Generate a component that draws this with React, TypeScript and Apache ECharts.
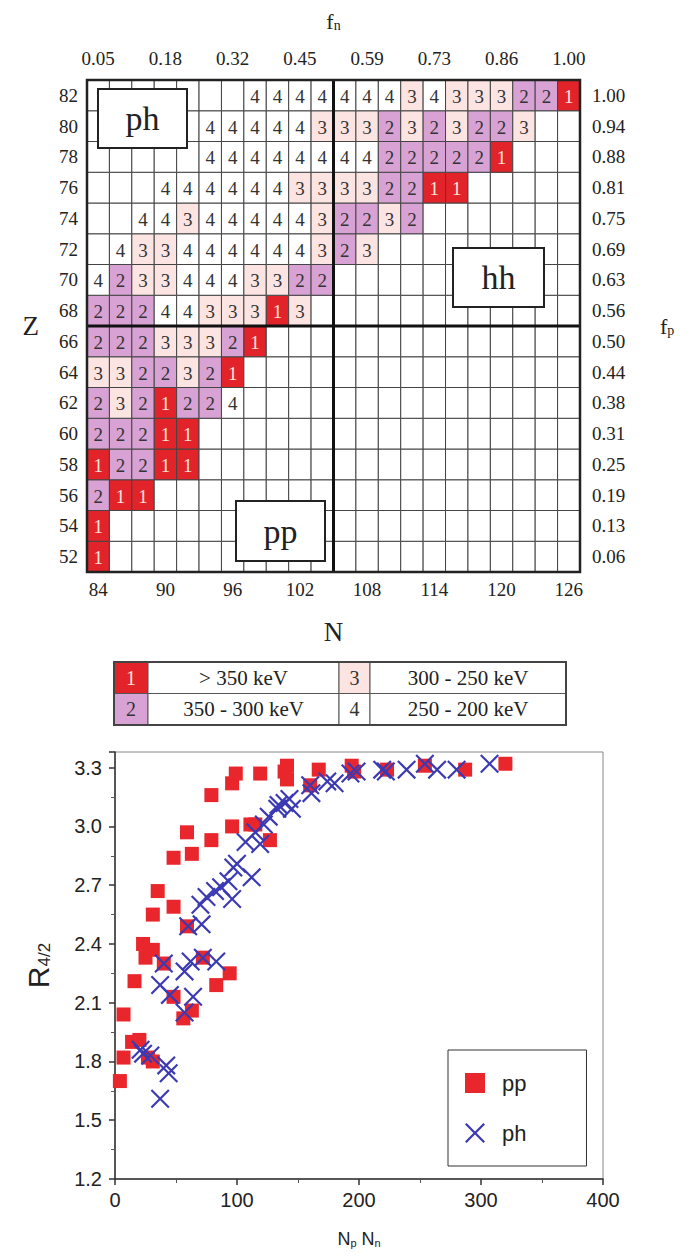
import React, { useEffect, useRef } from 'react';
import * as echarts from 'echarts';

// ---------- Top chart: neutron/proton grid ----------
const N_VALUES = [84, 86, 88, 90, 92, 94, 96, 98, 100, 102, 104, 106, 108, 110, 112, 114, 116, 118, 120, 122, 124, 126];
const Z_VALUES = [52, 54, 56, 58, 60, 62, 64, 66, 68, 70, 72, 74, 76, 78, 80, 82];
const FN_TICKS = ['0.05', '0.18', '0.32', '0.45', '0.59', '0.73', '0.86', '1.00'];
const FP_TICKS = ['0.06', '0.13', '0.19', '0.25', '0.31', '0.38', '0.44', '0.50', '0.56', '0.63', '0.69', '0.75', '0.81', '0.88', '0.94', '1.00'];

// category of each cell (0 = empty), columns N = 84 ... 126
const ROW_Z82 = [0, 0, 0, 0, 0, 0, 0, 4, 4, 4, 4, 4, 4, 4, 3, 4, 3, 3, 3, 2, 2, 1];
const ROW_Z80 = [0, 0, 0, 0, 0, 4, 4, 4, 4, 4, 3, 3, 3, 2, 3, 2, 3, 2, 2, 3, 0, 0];
const ROW_Z78 = [0, 0, 0, 0, 0, 4, 4, 4, 4, 4, 4, 4, 4, 2, 2, 2, 2, 2, 1, 0, 0, 0];
const ROW_Z76 = [0, 0, 0, 4, 4, 4, 4, 4, 4, 3, 3, 3, 3, 2, 2, 1, 1, 0, 0, 0, 0, 0];
const ROW_Z74 = [0, 0, 4, 4, 3, 4, 4, 4, 4, 4, 3, 2, 2, 3, 2, 0, 0, 0, 0, 0, 0, 0];
const ROW_Z72 = [0, 4, 3, 3, 4, 4, 4, 4, 4, 4, 3, 2, 3, 0, 0, 0, 0, 0, 0, 0, 0, 0];
const ROW_Z70 = [4, 2, 3, 3, 4, 4, 4, 3, 3, 2, 2, 0, 0, 0, 0, 0, 0, 0, 0, 0, 0, 0];
const ROW_Z68 = [2, 2, 2, 4, 4, 3, 3, 3, 1, 3, 0, 0, 0, 0, 0, 0, 0, 0, 0, 0, 0, 0];
const ROW_Z66 = [2, 2, 2, 3, 3, 3, 2, 1, 0, 0, 0, 0, 0, 0, 0, 0, 0, 0, 0, 0, 0, 0];
const ROW_Z64 = [3, 3, 2, 2, 3, 2, 1, 0, 0, 0, 0, 0, 0, 0, 0, 0, 0, 0, 0, 0, 0, 0];
const ROW_Z62 = [2, 3, 2, 1, 2, 2, 4, 0, 0, 0, 0, 0, 0, 0, 0, 0, 0, 0, 0, 0, 0, 0];
const ROW_Z60 = [2, 2, 2, 1, 1, 0, 0, 0, 0, 0, 0, 0, 0, 0, 0, 0, 0, 0, 0, 0, 0, 0];
const ROW_Z58 = [1, 2, 2, 1, 1, 0, 0, 0, 0, 0, 0, 0, 0, 0, 0, 0, 0, 0, 0, 0, 0, 0];
const ROW_Z56 = [2, 1, 1, 0, 0, 0, 0, 0, 0, 0, 0, 0, 0, 0, 0, 0, 0, 0, 0, 0, 0, 0];
const ROW_Z54 = [1, 0, 0, 0, 0, 0, 0, 0, 0, 0, 0, 0, 0, 0, 0, 0, 0, 0, 0, 0, 0, 0];
const ROW_Z52 = [1, 0, 0, 0, 0, 0, 0, 0, 0, 0, 0, 0, 0, 0, 0, 0, 0, 0, 0, 0, 0, 0];
const ROWS_BOTTOM_UP = [ROW_Z52, ROW_Z54, ROW_Z56, ROW_Z58, ROW_Z60, ROW_Z62, ROW_Z64, ROW_Z66,
  ROW_Z68, ROW_Z70, ROW_Z72, ROW_Z74, ROW_Z76, ROW_Z78, ROW_Z80, ROW_Z82];

const SPLIT_N = 104; // thick line after this N
const SPLIT_Z = 68;  // thick line below this Z

const LEGEND_CODES = ['1', '2', '3', '4'];
const LEGEND_RANGES = ['> 350 keV', '350 - 300 keV', '300 - 250 keV', '250 - 200 keV'];

// ---------- Bottom chart: R4/2 vs NpNn ----------
const PP_DATA: number[][] = [
  [4, 1.70], [7, 1.82], [7, 2.04], [14, 1.90], [16, 2.21], [20, 1.91], [23, 2.40], [25, 2.33],
  [27, 1.82], [31, 1.80], [31, 2.37], [31, 2.55], [35, 2.67], [40, 2.30], [48, 2.13], [48, 2.59],
  [48, 2.84], [56, 2.02], [59, 2.49], [59, 2.97], [63, 2.06], [63, 2.86], [72, 2.33], [79, 2.93],
  [79, 3.16], [83, 2.19], [94, 2.25], [96, 3.00], [96, 3.22], [99, 3.27], [111, 3.01], [115, 3.01],
  [119, 3.27], [127, 2.93], [139, 3.28], [141, 3.31], [141, 3.24], [160, 3.21], [167, 3.29],
  [194, 3.31], [196, 3.28], [223, 3.29], [254, 3.31], [287, 3.29], [320, 3.32],
];
const PH_DATA: number[][] = [
  [21, 1.86], [23, 1.84], [29, 1.83], [37, 1.61], [42, 1.78], [44, 1.74], [37, 2.19], [40, 2.30],
  [45, 2.14], [57, 2.05], [57, 2.26], [62, 2.31], [64, 2.13], [72, 2.33], [83, 2.31], [60, 2.49],
  [71, 2.50], [70, 2.60], [75, 2.64], [82, 2.67], [87, 2.69], [93, 2.72], [96, 2.63], [97, 2.79],
  [100, 2.81], [112, 2.74], [107, 2.92], [115, 2.97], [119, 2.91], [122, 3.01], [126, 3.05],
  [133, 3.09], [134, 3.11], [139, 3.12], [143, 3.14], [145, 3.09], [160, 3.21], [161, 3.17],
  [174, 3.23], [180, 3.22], [193, 3.27], [198, 3.28], [219, 3.29], [222, 3.28], [239, 3.29],
  [254, 3.32], [264, 3.29], [280, 3.29], [307, 3.32],
];
const X_TICKS = { min: 0, max: 400, interval: 100 };
const Y_TICKS = { min: 1.2, max: 3.38, interval: 0.3 };

const CELL_COLORS: Record<number, string> = { 0: '#ffffff', 1: '#e3232a', 2: '#d8a3d4', 3: '#fbe4e2', 4: '#ffffff' };
const SERIF = 'Liberation Serif';
const SANS = 'Liberation Sans';
const X_SYMBOL = 'path://M0,1.6 L1.6,0 L10,8.4 L18.4,0 L20,1.6 L11.6,10 L20,18.4 L18.4,20 L10,11.6 L1.6,20 L0,18.4 L8.4,10 Z';

export default function App() {
  const ref = useRef<HTMLDivElement>(null);
  useEffect(() => {
    document.body.style.margin = '0';
    if (!ref.current) return;
    const chart = echarts.init(ref.current, undefined, { renderer: 'svg' });

    const cells: number[][] = [];
    ROWS_BOTTOM_UP.forEach((row, zi) => row.forEach((v, ni) => cells.push([ni, zi, v])));
    const splitCol = N_VALUES.indexOf(SPLIT_N);
    const splitRow = Z_VALUES.indexOf(SPLIT_Z);

    // legend table (graphic)
    const tx = 114, ty = 662, rowH = 31.5;
    const colX = [114, 148, 339, 370, 566];
    const tableEls: any[] = [];
    LEGEND_CODES.forEach((code, i) => {
      const col = i < 2 ? 0 : 2;
      const row = i % 2;
      const y = ty + row * rowH;
      tableEls.push({ type: 'rect', z: 100, shape: { x: colX[col], y, width: colX[col + 1] - colX[col], height: rowH },
        style: { fill: CELL_COLORS[Number(code)], stroke: '#555', lineWidth: 1 } });
      tableEls.push({ type: 'rect', z: 100, shape: { x: colX[col + 1], y, width: colX[col + 2] - colX[col + 1], height: rowH },
        style: { fill: '#fff', stroke: '#555', lineWidth: 1 } });
      tableEls.push({ type: 'text', z: 101, x: (colX[col] + colX[col + 1]) / 2, y: y + rowH / 2,
        style: { text: code, fontFamily: SERIF, fontSize: 20, fill: code === '1' ? '#fde6dc' : '#333', align: 'center', verticalAlign: 'middle' } });
      tableEls.push({ type: 'text', z: 101, x: (colX[col + 1] + colX[col + 2]) / 2, y: y + rowH / 2,
        style: { text: LEGEND_RANGES[i], fontFamily: SERIF, fontSize: 21, fill: '#222', align: 'center', verticalAlign: 'middle' } });
    });
    tableEls.push({ type: 'rect', z: 102, shape: { x: tx, y: ty, width: 566 - tx, height: rowH * 2 },
      style: { fill: 'none', stroke: '#444', lineWidth: 2 } });

    const boxes = [
      { t: 'ph', x: 98, y: 89, w: 89, h: 59 },
      { t: 'pp', x: 236, y: 501, w: 89, h: 60 },
      { t: 'hh', x: 453, y: 248, w: 91, h: 59 },
    ];
    const boxEls: any[] = [];
    boxes.forEach((b) => {
      boxEls.push({ type: 'rect', z: 100, shape: { x: b.x, y: b.y, width: b.w, height: b.h },
        style: { fill: '#fff', stroke: '#222', lineWidth: 2 } });
      boxEls.push({ type: 'text', z: 101, x: b.x + b.w / 2, y: b.y + b.h / 2,
        style: { text: b.t, fontFamily: SERIF, fontSize: 34, fill: '#222', align: 'center', verticalAlign: 'middle' } });
    });

    const catLabel = { fontFamily: SERIF, fontSize: 19, color: '#222' };
    const sansLabel = { fontFamily: SANS, fontSize: 20, color: '#222' };

    chart.setOption({
      animation: false,
      backgroundColor: '#fff',
      grid: [
        { left: 87, top: 80, width: 493, height: 492, containLabel: false },
        { left: 115, top: 752, width: 488, height: 427, show: true, borderColor: '#888', borderWidth: 1 },
      ],
      xAxis: [
        {
          gridIndex: 0, type: 'category', data: N_VALUES.map(String), position: 'bottom',
          axisLine: { show: false }, axisTick: { show: false }, splitLine: { show: false },
          axisLabel: { ...catLabel, interval: 2, margin: 8 },
          name: 'N', nameLocation: 'middle', nameGap: 46,
          nameTextStyle: { fontFamily: SERIF, fontSize: 27, color: '#222' },
        },
        {
          gridIndex: 0, type: 'category', data: N_VALUES.map(String), position: 'top',
          axisLine: { show: false }, axisTick: { show: false }, splitLine: { show: false },
          axisLabel: { ...catLabel, interval: 2, margin: 12, formatter: (_v: string, i: number) => (i % 3 === 0 ? FN_TICKS[i / 3] : '') },
          name: 'f{sub|n}', nameLocation: 'middle', nameGap: 48,
          nameTextStyle: { fontFamily: SERIF, fontSize: 22, color: '#222', rich: { sub: { fontFamily: SERIF, fontSize: 14, verticalAlign: 'bottom', padding: [8, 0, 0, 0] } } },
        },
        {
          gridIndex: 1, type: 'value', min: X_TICKS.min, max: X_TICKS.max, interval: X_TICKS.interval,
          axisLine: { show: true, onZero: false, lineStyle: { color: '#333', width: 1.5 } },
          axisTick: { show: true, length: 6, lineStyle: { color: '#333', width: 1.5 } },
          minorTick: { show: true, splitNumber: 2, length: 4, lineStyle: { color: '#555' } },
          splitLine: { show: false },
          axisLabel: { ...sansLabel, margin: 11 },
          name: 'N{sub|p} N{sub|n}', nameLocation: 'middle', nameGap: 50,
          nameTextStyle: { fontFamily: SANS, fontSize: 18, color: '#222', rich: { sub: { fontFamily: SANS, fontSize: 11, verticalAlign: 'bottom', padding: [8, 0, 0, 0] } } },
        },
      ],
      yAxis: [
        {
          gridIndex: 0, type: 'category', data: Z_VALUES.map(String), position: 'left',
          axisLine: { show: false }, axisTick: { show: false }, splitLine: { show: false },
          axisLabel: { ...catLabel, interval: 0, margin: 9 },
          name: 'Z', nameLocation: 'middle', nameRotate: 0, nameGap: 48,
          nameTextStyle: { fontFamily: SERIF, fontSize: 27, color: '#222' },
        },
        {
          gridIndex: 0, type: 'category', data: Z_VALUES.map(String), position: 'right',
          axisLine: { show: false }, axisTick: { show: false }, splitLine: { show: false },
          axisLabel: { ...catLabel, interval: 0, margin: 12, formatter: (_v: string, i: number) => FP_TICKS[i] },
          name: 'f{sub|p}', nameLocation: 'middle', nameRotate: 0, nameGap: 80,
          nameTextStyle: { fontFamily: SERIF, fontSize: 22, color: '#222', rich: { sub: { fontFamily: SERIF, fontSize: 14, verticalAlign: 'bottom', padding: [8, 0, 0, 0] } } },
        },
        {
          gridIndex: 1, type: 'value', min: Y_TICKS.min, max: Y_TICKS.max, interval: Y_TICKS.interval,
          axisLine: { show: true, onZero: false, lineStyle: { color: '#333', width: 1.5 } },
          axisTick: { show: true, length: 6, lineStyle: { color: '#333', width: 1.5 } },
          minorTick: { show: true, splitNumber: 2, length: 4, lineStyle: { color: '#555' } },
          splitLine: { show: false },
          axisLabel: {
            ...sansLabel, margin: 13,
            formatter: (v: number) => {
              const k = (v - Y_TICKS.min) / Y_TICKS.interval;
              return Math.abs(k - Math.round(k)) < 1e-6 ? v.toFixed(1) : '';
            },
          },
          name: 'R{sub|4/2}', nameLocation: 'middle', nameRotate: 90, nameGap: 62,
          nameTextStyle: { fontFamily: SANS, fontSize: 30, color: '#222', rich: { sub: { fontFamily: SANS, fontSize: 17, verticalAlign: 'bottom', padding: [12, 0, 0, 0] } } },
        },
      ],
      legend: {
        left: 448, top: 1050, orient: 'vertical', data: ['pp', 'ph'],
        itemWidth: 20, itemHeight: 20, itemGap: 28, padding: [22, 60, 22, 17],
        borderColor: '#333', borderWidth: 1, backgroundColor: '#fff',
        textStyle: { fontFamily: SANS, fontSize: 22, color: '#222', padding: [0, 0, 0, 12] },
      },
      series: [
        {
          type: 'custom', name: 'cells', xAxisIndex: 0, yAxisIndex: 0, data: cells, z: 2,
          renderItem: (_p: any, api: any) => {
            const c = api.value(0), r = api.value(1), v = api.value(2);
            const ctr = api.coord([c, r]);
            const s = api.size([1, 1]);
            const children: any[] = [{
              type: 'rect',
              shape: { x: ctr[0] - s[0] / 2, y: ctr[1] - s[1] / 2, width: s[0], height: s[1] },
              style: { fill: CELL_COLORS[v], stroke: '#444', lineWidth: 1 },
            }];
            if (v) {
              children.push({
                type: 'text', x: ctr[0], y: ctr[1] + 1,
                style: { text: String(v), fontFamily: SERIF, fontSize: 19, fill: v === 1 ? '#fde6dc' : '#333', align: 'center', verticalAlign: 'middle' },
              });
            }
            return { type: 'group', children };
          },
        },
        {
          type: 'custom', name: 'dividers', xAxisIndex: 0, yAxisIndex: 0, data: [[0, 0]], z: 5,
          renderItem: (_p: any, api: any) => {
            const s = api.size([1, 1]);
            const left = api.coord([0, 0])[0] - s[0] / 2;
            const right = api.coord([N_VALUES.length - 1, 0])[0] + s[0] / 2;
            const bottom = api.coord([0, 0])[1] + s[1] / 2;
            const top = api.coord([0, Z_VALUES.length - 1])[1] - s[1] / 2;
            const vx = api.coord([splitCol, 0])[0] + s[0] / 2;
            const hy = api.coord([0, splitRow])[1] + s[1] / 2;
            return {
              type: 'group',
              children: [
                { type: 'line', shape: { x1: vx, y1: top, x2: vx, y2: bottom }, style: { stroke: '#111', lineWidth: 3 } },
                { type: 'line', shape: { x1: left, y1: hy, x2: right, y2: hy }, style: { stroke: '#111', lineWidth: 3 } },
                { type: 'rect', shape: { x: left, y: top, width: right - left, height: bottom - top }, style: { fill: 'none', stroke: '#222', lineWidth: 2.5 } },
              ],
            };
          },
        },
        {
          type: 'scatter', name: 'pp', xAxisIndex: 2, yAxisIndex: 2, data: PP_DATA,
          symbol: 'rect', symbolSize: 14, itemStyle: { color: '#e8262c', opacity: 1 },
        },
        {
          type: 'scatter', name: 'ph', xAxisIndex: 2, yAxisIndex: 2, data: PH_DATA,
          symbol: X_SYMBOL, symbolSize: 19, itemStyle: { color: '#3b3ab3', opacity: 1 },
        },
      ],
      graphic: [...tableEls, ...boxEls],
    });
    return () => chart.dispose();
  }, []);
  return <div ref={ref} style={{ width: 690, height: 1260 }} />;
}
